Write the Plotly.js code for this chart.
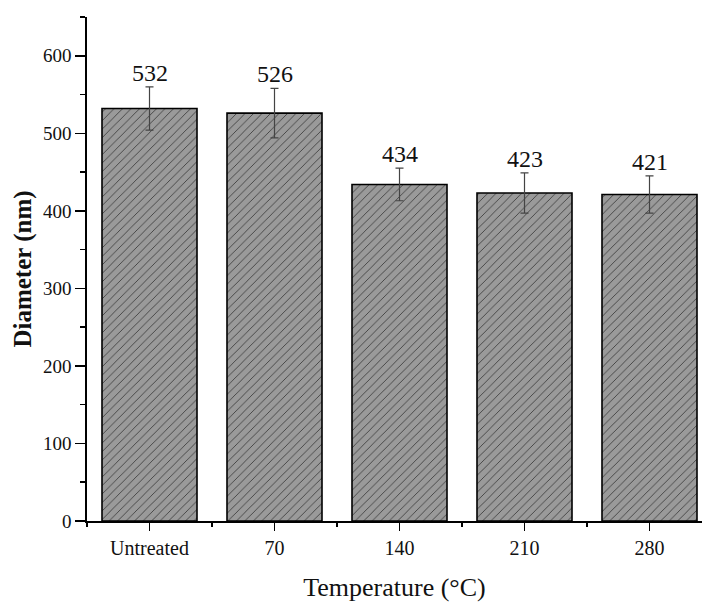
<!DOCTYPE html>
<html>
<head>
<meta charset="utf-8">
<script src="https://cdn.plot.ly/plotly-3.0.1.min.js"></script>
<style>html,body{margin:0;padding:0;background:#fff;}#chart{width:702px;height:602px;}</style>
</head>
<body>
<div id="chart"></div>
<script>
const categories = ["Untreated", "70", "140", "210", "280"];
const diameters = [532, 526, 434, 423, 421];
const errors = [28, 32, 21, 26, 24];
const boundaries = [-0.5, 0.5, 1.5, 2.5, 3.5, 4.5];

const FONT = "Liberation Serif, Times New Roman, serif";

const bars = {
  type: "bar",
  x: categories,
  y: diameters,
  width: 0.76,
  marker: {
    color: "#9a9a9a",
    line: {color: "#000", width: 1.6},
    pattern: {shape: "/", fgcolor: "#2a2a2a", bgcolor: "#9a9a9a", size: 6, solidity: 0.12, fillmode: "replace"}
  },
  error_y: {type: "data", array: errors, visible: true, color: "#444", thickness: 1.2, width: 4},
  hoverinfo: "none",
  showlegend: false
};

const dummy = {
  type: "scatter", x: [0], y: [0], xaxis: "x2", yaxis: "y",
  mode: "markers", marker: {opacity: 0}, hoverinfo: "none", showlegend: false
};

const annotations = categories.map((c, i) => ({
  x: i, y: diameters[i] + errors[i], xref: "x", yref: "y",
  text: String(diameters[i]), showarrow: false, yanchor: "bottom", yshift: -1,
  font: {family: FONT, size: 24, color: "#111"}
}));

const layout = {
  width: 702, height: 602,
  margin: {l: 87, r: 0, t: 17, b: 81},
  paper_bgcolor: "#fff", plot_bgcolor: "#fff",
  font: {family: FONT, color: "#111"},
  xaxis: {
    type: "category", range: [-0.5, 4.42],
    showline: true, linecolor: "#000", linewidth: 1.6,
    ticks: "outside", ticklen: 8, tickwidth: 1.6, tickcolor: "#000",
    tickfont: {family: FONT, size: 20, color: "#111"},
    showgrid: false, zeroline: false,
    title: {text: "Temperature (°C)", font: {family: FONT, size: 26, color: "#111"}, standoff: 24}
  },
  xaxis2: {
    overlaying: "x", range: [-0.5, 4.42], side: "bottom",
    showline: false, tickmode: "array", tickvals: boundaries, showticklabels: false,
    ticks: "outside", ticklen: 5, tickwidth: 1.6, tickcolor: "#000",
    showgrid: false, zeroline: false
  },
  yaxis: {
    range: [0, 650], dtick: 100, tick0: 0,
    showline: true, linecolor: "#000", linewidth: 1.6,
    ticks: "outside", ticklen: 10, tickwidth: 1.6, tickcolor: "#000",
    minor: {dtick: 50, ticks: "outside", ticklen: 5, tickwidth: 1.6, tickcolor: "#000", showgrid: false},
    tickfont: {family: FONT, size: 19, color: "#111"},
    showgrid: false, zeroline: false,
    title: {text: "<b>Diameter (nm)</b>", font: {family: FONT, size: 25, color: "#111"}, standoff: 4}
  },
  annotations: annotations,
  bargap: 0.24
};

Plotly.newPlot("chart", [bars, dummy], layout, {displayModeBar: false, staticPlot: true});
</script>
</body>
</html>
